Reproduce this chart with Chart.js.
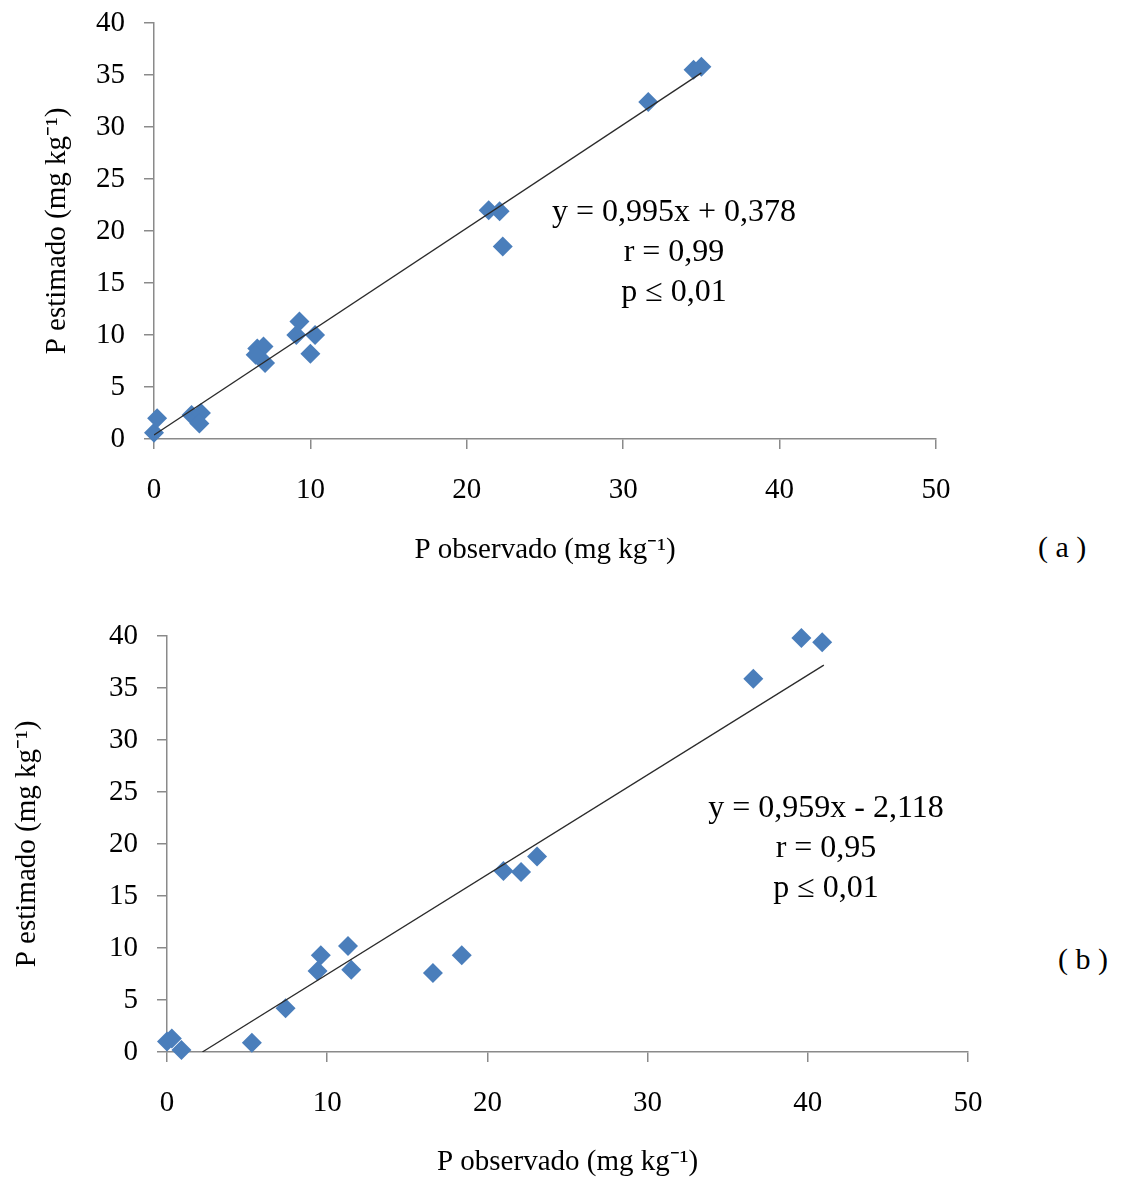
<!DOCTYPE html>
<html>
<head>
<meta charset="utf-8">
<script src="https://cdn.jsdelivr.net/npm/chart.js@4/dist/chart.umd.min.js"></script>
<style>
  body { margin: 0; background: #fff; width: 1127px; height: 1182px; position: relative; overflow: hidden; }
  .box { position: absolute; left: 0; }
  .eq { position: absolute; font-family: "Liberation Serif", serif; font-size: 32px; line-height: 40px; text-align: center; color: #000; white-space: nowrap; }
  .tag { position: absolute; font-family: "Liberation Serif", serif; font-size: 30px; color: #000; }
</style>
</head>
<body>
<div class="box" style="top:0; width:1000px; height:580px;"><canvas id="chartA"></canvas></div>
<div class="box" style="top:600px; width:1010px; height:582px;"><canvas id="chartB"></canvas></div>

<div class="eq" style="left:524px; top:190px; width:300px;">y = 0,995x + 0,378<br>r = 0,99<br>p ≤ 0,01</div>
<div class="eq" style="left:676px; top:786px; width:300px;">y = 0,959x - 2,118<br>r = 0,95<br>p ≤ 0,01</div>
<div class="tag" style="left:1038px; top:530px;">( a )</div>
<div class="tag" style="left:1058px; top:942px;">( b )</div>

<script>
// Panel (a)
const obsA = [0.0, 0.2, 2.4, 3.0, 2.9, 6.6, 7.0, 6.5, 7.1, 9.3, 9.1, 10.3, 10.0, 21.4, 22.1, 22.3, 31.6, 34.5, 35.0];
const estA = [0.6, 2.0, 2.3, 2.5, 1.5, 8.7, 8.9, 8.1, 7.3, 11.3, 10.0, 10.0, 8.2, 22.0, 21.9, 18.5, 32.4, 35.5, 35.8];
const slopeA = 0.995, interceptA = 0.378;
const lineRangeA = [0, 35];

// Panel (b)
const obsB = [0.0, 0.3, 0.9, 5.3, 7.4, 9.6, 9.4, 11.3, 11.5, 16.6, 18.4, 21.0, 22.1, 23.1, 36.6, 39.6, 40.9];
const estB = [1.0, 1.3, 0.2, 0.9, 4.2, 9.3, 7.8, 10.2, 7.9, 7.6, 9.3, 17.4, 17.3, 18.8, 35.9, 39.8, 39.4];
const slopeB = 0.959, interceptB = -2.118;
const lineRangeB = [2.21, 41];

const xTitle = 'P observado (mg kg\u207B\u00B9)';
const yTitle = 'P estimado (mg kg\u207B\u00B9)';

const axisGray = '#8a8a8a';
const markerBlue = '#4a7ebb';
const fontFamily = '"Liberation Serif", "Times New Roman", serif';

function makeChart(id, obs, est, slope, intercept, range, lay) {
    const points = obs.map((x, i) => ({ x: x, y: est[i] }));
    const trend = range.map(x => ({ x: x, y: slope * x + intercept }));

    return new Chart(document.getElementById(id), {
        type: 'scatter',
        data: {
            datasets: [
                {
                    type: 'line',
                    data: trend,
                    borderColor: '#2b2b2b',
                    borderWidth: 1.3,
                    pointRadius: 0,
                    fill: false,
                    order: 0
                },
                {
                    data: points,
                    pointStyle: 'rectRot',
                    pointRadius: 10,
                    backgroundColor: markerBlue,
                    borderColor: markerBlue,
                    borderWidth: 0,
                    clip: false,
                    order: 1
                }
            ]
        },
        options: {
            responsive: true,
            maintainAspectRatio: false,
            animation: false,
            layout: { padding: lay.padding },
            plugins: { legend: { display: false }, tooltip: { enabled: false } },
            scales: {
                x: {
                    type: 'linear',
                    min: 0,
                    max: 50,
                    ticks: { stepSize: 10, padding: 24, color: '#000', font: { family: fontFamily, size: 29 } },
                    grid: { drawOnChartArea: false, drawTicks: true, tickLength: 10, color: axisGray, lineWidth: 1.5 },
                    border: { color: axisGray, width: 1.5 },
                    title: { display: true, text: xTitle, color: '#000', font: { family: fontFamily, size: 29 }, padding: { top: 0, bottom: 0 } },
                    afterFit: s => { s.height = lay.xHeight; s.paddingLeft = 0; s.paddingRight = 0; }
                },
                y: {
                    type: 'linear',
                    min: 0,
                    max: 40,
                    ticks: { stepSize: 5, padding: 19, color: '#000', font: { family: fontFamily, size: 29 } },
                    grid: { drawOnChartArea: false, drawTicks: true, tickLength: 10, color: axisGray, lineWidth: 1.5 },
                    border: { color: axisGray, width: 1.5 },
                    title: { display: true, text: yTitle, color: '#000', font: { family: fontFamily, size: 29 }, padding: { top: lay.yTitlePad, bottom: 0 } },
                    afterFit: s => { s.width = lay.yWidth; s.paddingTop = 0; s.paddingBottom = 0; }
                }
            }
        }
    });
}

makeChart('chartA', obsA, estA, slopeA, interceptA, lineRangeA, {
    padding: { left: 0, top: 23, right: 64, bottom: 12 },
    xHeight: 129,
    yWidth: 154,
    yTitlePad: 40
});

makeChart('chartB', obsB, estB, slopeB, interceptB, lineRangeB, {
    padding: { left: 0, top: 36, right: 42, bottom: 2 },
    xHeight: 128,
    yWidth: 167,
    yTitlePad: 10
});
</script>
</body>
</html>
